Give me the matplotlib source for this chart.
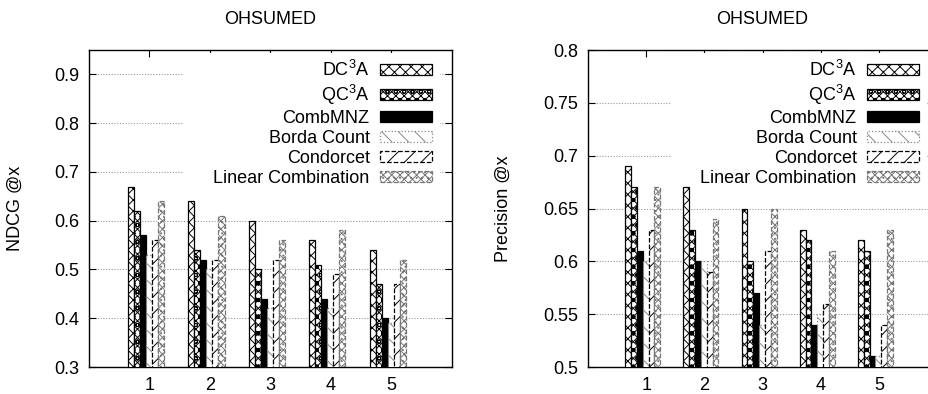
import numpy as np
import matplotlib.pyplot as plt
from matplotlib.patches import Rectangle

plt.rcParams['font.family'] = ['Liberation Sans', 'DejaVu Sans']
plt.rcParams['mathtext.fontset'] = 'custom'
plt.rcParams['mathtext.rm'] = 'Liberation Sans'
plt.rcParams['mathtext.default'] = 'regular'
plt.rcParams['hatch.linewidth'] = 0.7

# Data
positions = [1, 2, 3, 4, 5]
methods = ['DC$^3$A', 'QC$^3$A', 'CombMNZ', 'Borda Count', 'Condorcet', 'Linear Combination']

ndcg_dc3a = [0.67, 0.64, 0.60, 0.56, 0.54]
ndcg_qc3a = [0.62, 0.54, 0.50, 0.51, 0.47]
ndcg_combmnz = [0.57, 0.52, 0.44, 0.44, 0.40]
ndcg_borda = [0.53, 0.50, 0.42, 0.42, 0.39]
ndcg_condorcet = [0.56, 0.52, 0.52, 0.49, 0.47]
ndcg_linear = [0.64, 0.61, 0.56, 0.58, 0.52]

prec_dc3a = [0.69, 0.67, 0.65, 0.63, 0.62]
prec_qc3a = [0.67, 0.63, 0.60, 0.62, 0.61]
prec_combmnz = [0.61, 0.60, 0.57, 0.54, 0.51]
prec_borda = [0.60, 0.60, 0.54, 0.55, 0.51]
prec_condorcet = [0.63, 0.59, 0.61, 0.56, 0.54]
prec_linear = [0.67, 0.64, 0.65, 0.61, 0.63]

ndcg = [ndcg_dc3a, ndcg_qc3a, ndcg_combmnz, ndcg_borda, ndcg_condorcet, ndcg_linear]
prec = [prec_dc3a, prec_qc3a, prec_combmnz, prec_borda, prec_condorcet, prec_linear]

# gnuplot-like pattern styles
styles = [
    dict(facecolor='white', edgecolor='black', hatch='xxx', linestyle='-'),
    dict(facecolor='white', edgecolor='black', hatch='xxxxoo', linestyle='-'),
    dict(facecolor='black', edgecolor='black', hatch=None, linestyle='-'),
    dict(facecolor='white', edgecolor='#888888', hatch='\\\\', linestyle=':'),
    dict(facecolor='white', edgecolor='black', hatch='//', linestyle='--'),
    dict(facecolor='white', edgecolor='#777777', hatch='xxxx...', linestyle='--'),
]

fig = plt.figure(figsize=(9.29, 3.94), dpi=100)
ax1 = fig.add_axes([0.0958, 0.0685, 0.3907, 0.8045])
ax2 = fig.add_axes([0.633, 0.0685, 0.3757, 0.8045])

width = 0.1
x = np.array(positions, dtype=float)
fs = 13


def draw(ax, series, ylim, yticks, ylabel, leg_x, box):
    for i, vals in enumerate(series):
        ax.bar(x - 0.36 + i * width, vals, width, align='edge', label=methods[i],
               linewidth=0.9, zorder=3, **styles[i])
    ax.set_xlim(0, 6)
    ax.set_ylim(*ylim)
    ax.set_xticks(positions)
    ax.set_yticks(yticks)
    ax.yaxis.grid(True, linestyle=(0, (1, 1.5)), color='#999999', linewidth=0.8)
    ax.set_axisbelow(True)
    ax.tick_params(direction='in', top=True, right=True, length=5,
                   labelsize=fs, pad=7)
    for sp in ax.spines.values():
        sp.set_linewidth(1.0)
    ax.set_title('OHSUMED', fontsize=fs, pad=19)
    ax.set_ylabel(ylabel, fontsize=fs)
    # white key area that hides the grid behind the legend
    ax.add_patch(Rectangle((box[0], box[1]), box[2] - box[0], 0.99 - box[1],
                           transform=ax.transAxes, facecolor='white',
                           edgecolor='none', zorder=1))
    ax.legend(loc='upper right', bbox_to_anchor=(leg_x, 0.968), frameon=False,
              markerfirst=False, fontsize=fs, labelspacing=0.16,
              handlelength=2.9, handleheight=0.55, handletextpad=0.55,
              borderpad=0, borderaxespad=0)


draw(ax1, ndcg, (0.3, 0.95), [0.3, 0.4, 0.5, 0.6, 0.7, 0.8, 0.9],
     'NDCG @x', 0.945, (0.259, 0.574, 0.967))
ax1.yaxis.set_label_coords(-0.179, 0.5)

draw(ax2, prec, (0.5, 0.8), [0.5, 0.55, 0.6, 0.65, 0.7, 0.75, 0.8],
     'Precision @x', 0.948, (0.238, 0.574, 0.97))
ax2.set_yticklabels(['0.5', '0.55', '0.6', '0.65', '0.7', '0.75', '0.8'])
ax2.yaxis.set_label_coords(-0.218, 0.5)

fig.savefig('out.png', dpi=100)
